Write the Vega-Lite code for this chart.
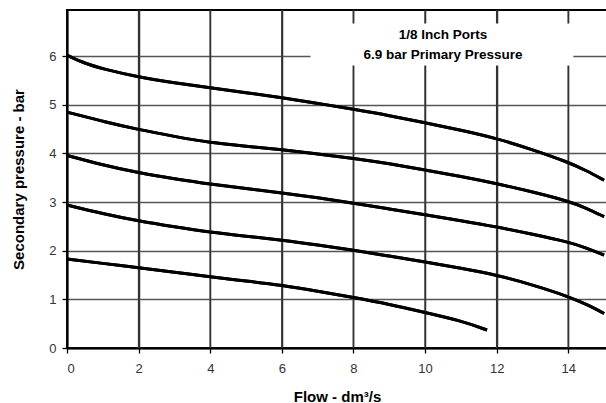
{
  "$schema": "https://vega.github.io/schema/vega-lite/v6.json",
  "autosize": {"type": "none"},
  "padding": {"left": 67, "top": 10, "right": 0, "bottom": 55},
  "width": 540,
  "height": 338,
  "background": "white",
  "config": {
    "view": {"stroke": "black", "strokeWidth": 2},
    "font": "Liberation Sans",
    "axis": {
      "gridColor": "#555555", "gridOpacity": 1, "gridWidth": 1.3,
      "tickColor": "#000000", "tickSize": 5, "tickOpacity": 1, "tickWidth": 1.3,
      "domainColor": "#000000", "domainWidth": 2
    }
  },
  "datasets": {
    "curves": [
      {"s": "A", "flow": 0, "p": 6.02}, {"s": "A", "flow": 0.5, "p": 5.85}, {"s": "A", "flow": 1, "p": 5.74}, {"s": "A", "flow": 2, "p": 5.57}, {"s": "A", "flow": 3, "p": 5.45}, {"s": "A", "flow": 4, "p": 5.35}, {"s": "A", "flow": 5, "p": 5.25}, {"s": "A", "flow": 6, "p": 5.15}, {"s": "A", "flow": 7, "p": 5.03}, {"s": "A", "flow": 8, "p": 4.91}, {"s": "A", "flow": 9, "p": 4.78}, {"s": "A", "flow": 10, "p": 4.63}, {"s": "A", "flow": 11, "p": 4.48}, {"s": "A", "flow": 12, "p": 4.31}, {"s": "A", "flow": 13, "p": 4.08}, {"s": "A", "flow": 14, "p": 3.82}, {"s": "A", "flow": 14.5, "p": 3.65}, {"s": "A", "flow": 15, "p": 3.45},
      {"s": "B", "flow": 0, "p": 4.85}, {"s": "B", "flow": 1, "p": 4.66}, {"s": "B", "flow": 2, "p": 4.49}, {"s": "B", "flow": 3, "p": 4.35}, {"s": "B", "flow": 4, "p": 4.22}, {"s": "B", "flow": 5, "p": 4.15}, {"s": "B", "flow": 6, "p": 4.08}, {"s": "B", "flow": 7, "p": 3.99}, {"s": "B", "flow": 8, "p": 3.9}, {"s": "B", "flow": 9, "p": 3.79}, {"s": "B", "flow": 10, "p": 3.66}, {"s": "B", "flow": 11, "p": 3.53}, {"s": "B", "flow": 12, "p": 3.38}, {"s": "B", "flow": 13, "p": 3.21}, {"s": "B", "flow": 14, "p": 3.02}, {"s": "B", "flow": 14.5, "p": 2.88}, {"s": "B", "flow": 15, "p": 2.7},
      {"s": "C", "flow": 0, "p": 3.96}, {"s": "C", "flow": 1, "p": 3.76}, {"s": "C", "flow": 2, "p": 3.6}, {"s": "C", "flow": 3, "p": 3.48}, {"s": "C", "flow": 4, "p": 3.37}, {"s": "C", "flow": 5, "p": 3.28}, {"s": "C", "flow": 6, "p": 3.19}, {"s": "C", "flow": 7, "p": 3.09}, {"s": "C", "flow": 8, "p": 2.98}, {"s": "C", "flow": 9, "p": 2.86}, {"s": "C", "flow": 10, "p": 2.74}, {"s": "C", "flow": 11, "p": 2.62}, {"s": "C", "flow": 12, "p": 2.49}, {"s": "C", "flow": 13, "p": 2.34}, {"s": "C", "flow": 14, "p": 2.18}, {"s": "C", "flow": 14.5, "p": 2.06}, {"s": "C", "flow": 15, "p": 1.91},
      {"s": "D", "flow": 0, "p": 2.94}, {"s": "D", "flow": 1, "p": 2.76}, {"s": "D", "flow": 2, "p": 2.61}, {"s": "D", "flow": 3, "p": 2.49}, {"s": "D", "flow": 4, "p": 2.38}, {"s": "D", "flow": 5, "p": 2.3}, {"s": "D", "flow": 6, "p": 2.22}, {"s": "D", "flow": 7, "p": 2.12}, {"s": "D", "flow": 8, "p": 2.01}, {"s": "D", "flow": 9, "p": 1.89}, {"s": "D", "flow": 10, "p": 1.77}, {"s": "D", "flow": 11, "p": 1.64}, {"s": "D", "flow": 12, "p": 1.5}, {"s": "D", "flow": 13, "p": 1.3}, {"s": "D", "flow": 14, "p": 1.06}, {"s": "D", "flow": 14.5, "p": 0.9}, {"s": "D", "flow": 15, "p": 0.71},
      {"s": "E", "flow": 0, "p": 1.83}, {"s": "E", "flow": 1, "p": 1.74}, {"s": "E", "flow": 2, "p": 1.65}, {"s": "E", "flow": 3, "p": 1.56}, {"s": "E", "flow": 4, "p": 1.46}, {"s": "E", "flow": 5, "p": 1.38}, {"s": "E", "flow": 6, "p": 1.29}, {"s": "E", "flow": 7, "p": 1.17}, {"s": "E", "flow": 8, "p": 1.04}, {"s": "E", "flow": 9, "p": 0.9}, {"s": "E", "flow": 10, "p": 0.73}, {"s": "E", "flow": 11, "p": 0.56}, {"s": "E", "flow": 11.73, "p": 0.37}
    ],
    "xgrid": [{"g": 2}, {"g": 4}, {"g": 6}, {"g": 8}, {"g": 10}, {"g": 12}, {"g": 14}],
    "box": [{"bx1": 6.8, "bx2": 14.14, "by1": 5.81, "by2": 6.67}],
    "labels": [
      {"t": "1/8 Inch Ports", "lx": 10.5, "ly": 6.43},
      {"t": "6.9 bar Primary Pressure", "lx": 10.5, "ly": 6.02}
    ]
  },
  "layer": [
    {
      "data": {"name": "curves"},
      "mark": {"type": "line", "color": "black", "strokeWidth": 3, "interpolate": "basis", "clip": true},
      "encoding": {
        "x": {
          "field": "flow", "type": "quantitative",
          "scale": {"domain": [0, 15.08], "nice": false, "zero": false},
          "axis": {
            "title": "Flow - dm³/s",
            "values": [0, 2, 4, 6, 8, 10, 12, 14],
            "grid": true, "gridWidth": 1.5, "gridColor": "#333333", "ticks": true,
            "labelFontSize": 13, "labelColor": "#333", "labelPadding": 9,
            "labelFont": "Liberation Sans",
            "titleFontSize": 15, "titleFontWeight": "bold", "titleColor": "black",
            "titlePadding": 14, "titleFont": "Liberation Sans"
          }
        },
        "y": {
          "field": "p", "type": "quantitative",
          "scale": {"domain": [0, 6.95], "nice": false, "zero": false},
          "axis": {
            "title": "Secondary pressure - bar",
            "values": [0, 1, 2, 3, 4, 5, 6],
            "grid": true, "ticks": true,
            "labelFontSize": 13, "labelColor": "#333", "labelPadding": 6,
            "labelFont": "Liberation Sans",
            "titleFontSize": 15, "titleFontWeight": "bold", "titleColor": "black",
            "titlePadding": 22, "titleFont": "Liberation Sans"
          }
        },
        "detail": {"field": "s"}
      }
    },
    {
      "data": {"name": "xgrid"},
      "mark": {"type": "rule", "color": "#333333", "strokeWidth": 1.5},
      "encoding": {
        "x": {"field": "g", "type": "quantitative"}
      }
    },
    {
      "data": {"name": "box"},
      "mark": {"type": "rect", "fill": "white"},
      "encoding": {
        "x": {"field": "bx1", "type": "quantitative"},
        "x2": {"field": "bx2"},
        "y": {"field": "by1", "type": "quantitative"},
        "y2": {"field": "by2"}
      }
    },
    {
      "data": {"name": "curves"},
      "mark": {"type": "line", "color": "black", "strokeWidth": 3, "interpolate": "basis", "clip": true},
      "encoding": {
        "x": {"field": "flow", "type": "quantitative"},
        "y": {"field": "p", "type": "quantitative"},
        "detail": {"field": "s"}
      }
    },
    {
      "data": {"name": "labels"},
      "mark": {"type": "text", "fontSize": 13.5, "fontWeight": "bold", "font": "Liberation Sans", "color": "black", "align": "center", "baseline": "middle"},
      "encoding": {
        "x": {"field": "lx", "type": "quantitative"},
        "y": {"field": "ly", "type": "quantitative"},
        "text": {"field": "t"}
      }
    }
  ]
}
